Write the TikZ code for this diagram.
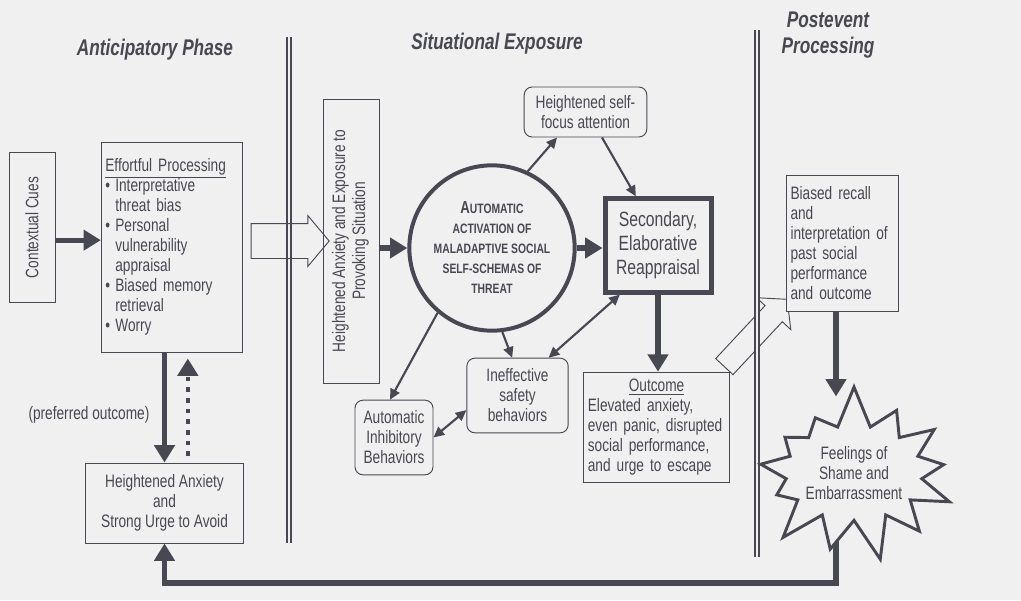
\documentclass[tikz,border=0pt]{standalone}
\usepackage{fontspec}
\setmainfont[FakeStretch=0.76]{Liberation Sans}
\usepackage{graphicx}
\usepackage{tikz}
\usetikzlibrary{calc,arrows.meta,shapes.arrows,shapes.symbols,backgrounds}
\definecolor{ink}{RGB}{72,72,82}
\definecolor{paper}{RGB}{240,240,240}

\begin{document}
\begin{tikzpicture}[x=0.75pt, y=-0.75pt, color=ink, text=ink, font=\fontsize{13.5}{15}\selectfont,
block/.style={rectangle, draw, line width=0.7pt, fill=paper, align=center, inner sep=3pt},
rblock/.style={block, rounded corners=6pt},
title/.style={font=\fontsize{17}{19.5}\selectfont\bfseries\itshape, align=center},
thickarrow/.style={line width=4pt, -{Triangle[length=13pt,width=15pt]}},
thinarrow/.style={line width=1.6pt, -{Triangle[length=8pt,width=7.5pt]}},
biarrow/.style={line width=1.6pt, {Triangle[length=8pt,width=7.5pt]}-{Triangle[length=8pt,width=7.5pt]}},
dotarrow/.style={line width=3.5pt, dash pattern=on 3.5pt off 4.5pt, -{Triangle[length=13pt,width=15pt]}},
hollow/.style={single arrow, draw=ink, line width=0.7pt, inner xsep=0pt, single arrow tip angle=100},
divider/.style={double=paper, double distance=1.6pt, line width=1.4pt},
burst/.style={starburst, draw, fill=paper, line width=2.2pt, starburst points=13,
      starburst point height=32pt, random starburst=7, inner sep=0pt, align=center}]
 \begin{scope}[on background layer]
 \fill[paper] (0,0) rectangle (1021,600);
 \end{scope}

 \draw[divider] (289,37) -- (289,543);
 \draw[divider] (757,30) -- (757,557);

 \node[title] (antic) at (155,50) {Anticipatory Phase};
 \node[title] (situ) at (497,44) {Situational Exposure};
 \node[title] (post) at (828,35) {Postevent\\Processing};

 \node[block, minimum width=34.5pt, minimum height=112pt] (cues) at (32,227.5)
   {\rotatebox{90}{Contextual Cues}};
 \node[block, align=left, text width=100pt, minimum height=157.5pt] (effort) at (172,247)
   {\underline{Effortful Processing}\\
    \makebox[7.5pt][l]{\textbullet}Interpretative\\ \hspace*{7.5pt}threat bias\\
    \makebox[7.5pt][l]{\textbullet}Personal\\ \hspace*{7.5pt}vulnerability\\ \hspace*{7.5pt}appraisal\\
    \makebox[7.5pt][l]{\textbullet}Biased memory\\ \hspace*{7.5pt}retrieval\\
    \makebox[7.5pt][l]{\textbullet}Worry};
 \node[block, minimum width=118pt, minimum height=60pt] (avoid) at (164.5,503)
   {Heightened Anxiety\\and\\Strong Urge to Avoid};
 \node[block, minimum width=42pt, minimum height=213pt] (expo) at (351,241)
   {\rotatebox{90}{\begin{tabular}{@{}c@{}}Heightened Anxiety and Exposure to\\Provoking Situation\end{tabular}}};
 \node[circle, draw, line width=3pt, fill=paper, minimum size=124pt, inner sep=0pt, align=center,
   font=\bfseries\fontsize{10.2}{15}\selectfont] (schema) at (492,248)
   {{\fontsize{13}{15}\selectfont A}UTOMATIC\\ACTIVATION OF\\MALADAPTIVE SOCIAL\\SELF-SCHEMAS OF\\THREAT};
 \node[rblock, minimum width=92pt, minimum height=37.5pt] (focus) at (585.5,112)
   {Heightened self-\\focus attention};
 \node[block, line width=3.75pt, minimum width=79.5pt, minimum height=70pt,
   font=\fontsize{15.5}{18}\selectfont] (reappr) at (658,245.5) {Secondary,\\Elaborative\\Reappraisal};
 \node[rblock, minimum width=58.5pt, minimum height=56pt] (inhib) at (394,437.5)
   {Automatic\\Inhibitory\\Behaviors};
 \node[rblock, minimum width=76pt, minimum height=56pt] (ineff) at (517.5,395.5)
   {Ineffective\\safety\\behaviors};
 \node[block, align=left, text width=103pt, minimum height=83pt] (outcome) at (656.5,427.5)
   {\makebox[103pt]{\underline{Outcome}}\\Elevated anxiety,\\even panic, disrupted\\social performance,\\and urge to escape};
 \node[block, align=left, text width=78pt, minimum height=102pt] (biased) at (842.5,243)
   {Biased recall\\and\\interpretation of\\past social\\performance\\and outcome};
 \node[burst, minimum width=144pt, minimum height=135pt] (shame) at (854,473)
   {Feelings of\\Shame and\\Embarrassment};

 \draw[thickarrow] ([yshift=-9.5pt]cues.east) -- ([yshift=-9.5pt]cues.east -| effort.west);
 \draw[thickarrow] (effort.south -| avoid.north) -- node[left, pos=0.57, xshift=-6pt] (pref) {(preferred outcome)} (avoid.north);
 \draw[dotarrow, shorten <=5pt, shorten >=4.5pt] ([xshift=17.5pt]avoid.north) -- ([xshift=17.5pt]avoid.north |- effort.south);
 \node[hollow, inner ysep=12.75pt, minimum height=58.5pt, single arrow head extend=6pt]
   (push) at ($(effort.east |- expo.west)!0.5!(expo.west)$) {};
 \draw[thickarrow] (expo.east |- schema) -- (schema.west);
 \draw[thickarrow] (schema.east) -- (schema.east -| reappr.west);
 \draw[thinarrow] (schema.65) -- ([xshift=25pt]focus.south west);
 \draw[thinarrow] ([xshift=-34pt]focus.south east) -- ([xshift=25pt]reappr.north west);
 \draw[thinarrow] (schema.230) -- ([xshift=-3pt]inhib.north);
 \draw[thinarrow] (schema.277) -- ([xshift=-4pt]ineff.north);
 \draw[biarrow] ([xshift=-15pt]ineff.north east) -- ([xshift=13pt]reappr.south west);
 \draw[biarrow] (inhib.east) -- ([yshift=-11pt]ineff.west);
 \draw[thickarrow] (reappr.south) -- (reappr.south |- outcome.north);
 \coordinate (back) at (836,583);
 \draw[thickarrow] (biased.south -| back) -- ([yshift=-10pt]shame.north -| back);
 \begin{scope}[on background layer, color=ink]
 \node[hollow, inner ysep=8.5pt, minimum height=69pt, single arrow head extend=8.7pt, rotate=47]
   (recall) at ([shift={(-5.5,-5)}]$(outcome.north east)!0.5!(biased.south west)$) {};
 \draw[thickarrow, ink] (back |- shame.center) -- (back) -| (avoid.south);
 \end{scope}
\end{tikzpicture}
\end{document}
